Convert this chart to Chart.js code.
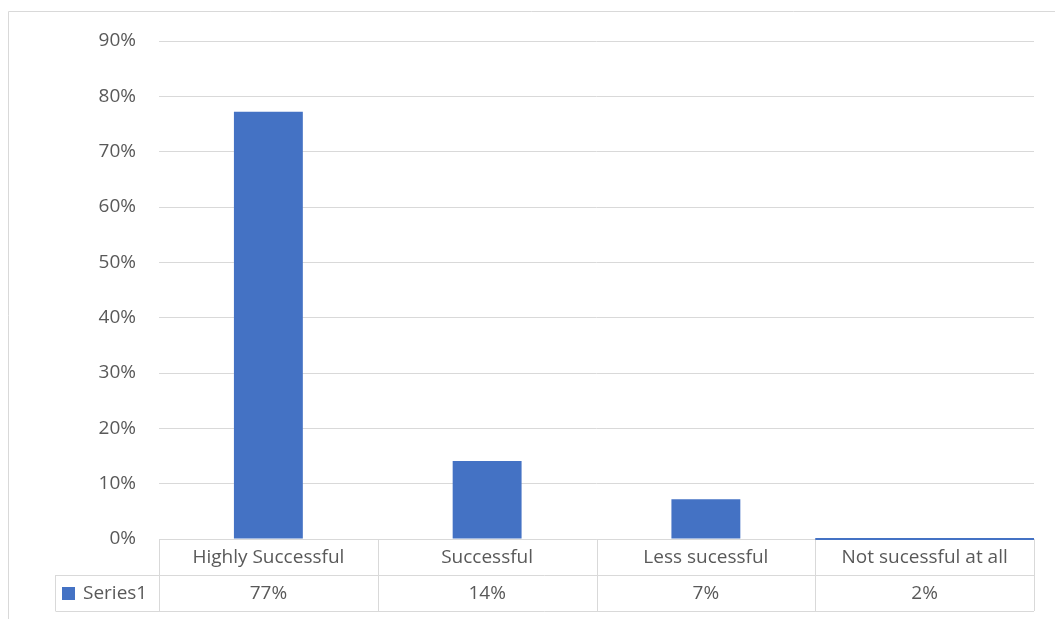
<!DOCTYPE html>
<html>
<head>
<meta charset="utf-8">
<script src="https://cdn.jsdelivr.net/npm/chart.js@4/dist/chart.umd.min.js"></script>
<style>
  html, body { margin: 0; padding: 0; background: #fff; }
  #wrap { width: 1055px; height: 619px; position: relative; }
</style>
</head>
<body>
<div id="wrap"><canvas id="chart" width="1055" height="619"></canvas></div>
<script>
// data
const categories  = ['Highly Successful', 'Successful', 'Less sucessful', 'Not sucessful at all'];
const barValues   = [77.2, 14.1, 7.2, 0];
const tableLabels = ['77%', '14%', '7%', '2%'];
const seriesName  = 'Series1';
const yTicks      = [0, 10, 20, 30, 40, 50, 60, 70, 80, 90];

const BLUE = '#4472C4';
const GRID = '#d9d9d9';
const TEXT = '#595959';
const FONT = '"Open Sans", sans-serif';
const FSIZE = 19;

// draws the outer frame and the data table under the plot
const dataTable = {
  id: 'dataTable',
  beforeDraw(chart) {
    const ctx = chart.ctx;
    ctx.save();
    ctx.strokeStyle = GRID;
    ctx.lineWidth = 1;
    ctx.beginPath();
    ctx.moveTo(8.5, 619);
    ctx.lineTo(8.5, 11.5);
    ctx.lineTo(1055, 11.5);
    ctx.stroke();
    ctx.restore();
  },
  afterDraw(chart) {
    const ctx = chart.ctx;
    const area = chart.chartArea;
    const x = chart.scales.x;
    const step = (area.right - area.left) / categories.length;
    const row1 = area.bottom, row2 = row1 + 36, row3 = row2 + 36;
    const legendLeft = 55.5;

    ctx.save();
    ctx.strokeStyle = GRID;
    ctx.lineWidth = 1;
    ctx.beginPath();
    // horizontal rules
    ctx.moveTo(area.left, row1 + 0.5); ctx.lineTo(area.right, row1 + 0.5);
    ctx.moveTo(legendLeft, row2 + 0.5); ctx.lineTo(area.right, row2 + 0.5);
    ctx.moveTo(legendLeft, row3 + 0.5); ctx.lineTo(area.right, row3 + 0.5);
    // vertical rules
    for (let i = 0; i <= categories.length; i++) {
      const vx = Math.round(area.left + i * step) + 0.5;
      ctx.moveTo(vx, row1); ctx.lineTo(vx, row3);
    }
    ctx.moveTo(legendLeft, row2); ctx.lineTo(legendLeft, row3);
    ctx.stroke();

    // last category sits on the axis: Excel paints its cell edge blue
    const last = categories.length - 1;
    ctx.strokeStyle = BLUE;
    ctx.lineWidth = 2;
    ctx.beginPath();
    ctx.moveTo(area.left + last * step, row1);
    ctx.lineTo(area.right, row1);
    ctx.stroke();

    ctx.fillStyle = TEXT;
    ctx.font = FSIZE + 'px ' + FONT;
    ctx.textAlign = 'center';
    ctx.textBaseline = 'middle';
    categories.forEach((c, i) => {
      const cx = x.getPixelForValue(i);
      ctx.fillText(c, cx, (row1 + row2) / 2 + 1);
      ctx.fillText(tableLabels[i], cx, (row2 + row3) / 2 + 1);
    });

    // legend key
    ctx.fillStyle = BLUE;
    ctx.fillRect(62, row2 + 12, 13, 13);
    ctx.fillStyle = TEXT;
    ctx.textAlign = 'left';
    ctx.fillText(seriesName, 83, (row2 + row3) / 2 + 1);
    ctx.restore();
  }
};

new Chart(document.getElementById('chart'), {
  type: 'bar',
  data: {
    labels: categories,
    datasets: [{
      label: seriesName,
      data: barValues,
      backgroundColor: BLUE,
      borderWidth: 0,
      categoryPercentage: 1,
      barPercentage: 0.315
    }]
  },
  options: {
    responsive: false,
    animation: false,
    devicePixelRatio: 1,
    layout: { padding: { top: 41, right: 21, bottom: 80, left: 0 } },
    plugins: { legend: { display: false }, tooltip: { enabled: false } },
    scales: {
      x: { display: false },
      y: {
        min: 0,
        max: 90,
        afterBuildTicks(scale) { scale.ticks = yTicks.map(v => ({ value: v })); },
        afterFit(scale) { scale.width = 159; },
        border: { display: false },
        grid: { color: GRID, lineWidth: 1, drawTicks: false },
        ticks: {
          color: TEXT,
          padding: 23,
          font: { family: FONT, size: FSIZE },
          callback: v => v + '%'
        }
      }
    }
  },
  plugins: [dataTable]
});
</script>
</body>
</html>
